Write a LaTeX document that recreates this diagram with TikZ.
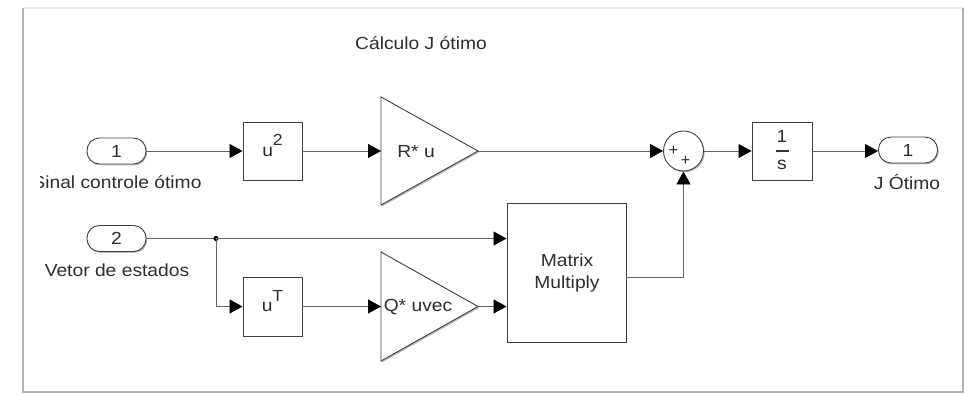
\documentclass[tikz,border=0pt]{standalone}
\usepackage{fontspec}
\setmainfont{Liberation Sans}
\usetikzlibrary{arrows.meta,shadows}
\newcommand{\wt}[1]{\scalebox{1.1}[1]{#1}}
\newcommand{\supx}[1]{\raisebox{0.6em}{\fontsize{16}{16}\selectfont #1}}
\begin{document}
\begin{tikzpicture}[x=1pt,y=-1pt,
  every node/.style={font=\fontsize{17.5}{20}\selectfont, text=black!82, inner sep=0pt},
  blk/.style={draw=black!75, line width=0.9pt, fill=white,
    drop shadow={shadow xshift=1.2pt,shadow yshift=-1.4pt,fill=black!45,opacity=0.6}},
  port/.style={blk, rounded corners=12.5pt, minimum width=59pt, minimum height=26pt},
  wire/.style={draw=black!60, line width=0.8pt},
  arr/.style={wire, -{Triangle[length=13pt,width=14pt,color=black]}},
  lbl/.style={text=black!82}
]
\useasboundingbox (0,0) rectangle (971,394);
% frame
\draw[draw=black!8, line width=1.2pt] (23,8) -- (963,8);
\draw[draw=black!30, line width=2pt] (23,8) -- (23,392) -- (963,392) -- (963,8);

% title
\node[lbl] (title) at (421,43) {\wt{Cálculo J ótimo}};

% ports
\node[port] (in1) at (116.5,151) {\wt{1}};
\node[port] (in2) at (116.5,238.5) {\wt{2}};
\node[port] (out1) at (908,150) {\wt{1}};
\begin{scope}
\clip (40,165) rectangle (300,200);
\node[lbl] (l1) at (117,182) {\wt{Sinal controle ótimo}};
\end{scope}
\node[lbl] (l2) at (117,270) {\wt{Vetor de estados}};
\node[lbl] (l3) at (907,182) {\wt{J Ótimo}};

% blocks
\node[blk, minimum width=59pt, minimum height=58pt] (sq) at (272.5,151) {};
\node (sqt) at (272.5,145.5) {\wt{u\supx{2}}};
\node[blk, minimum width=59pt, minimum height=59pt] (tr) at (272.5,306.5) {};
\node (trt) at (272.5,301) {\wt{u\supx{T}}};

% gains
\path[blk] (381,97) -- (381,205) -- (478,151) -- cycle;
\coordinate (rin) at (381,151);
\coordinate (rout) at (478,151);
\node (rt) at (416,152) {\wt{R* u}};
\path[blk] (381,252) -- (381,361) -- (478,306.5) -- cycle;
\coordinate (qin) at (381,306.5);
\coordinate (qout) at (478,306.5);
\node (qt) at (418,307) {\wt{Q* uvec}};

% matrix multiply
\node[blk, minimum width=119pt, minimum height=139pt] (mm) at (566.5,272.5) {};
\node (mm1) at (567,260) {\wt{Matrix}};
\node (mm2) at (567,284) {\wt{Multiply}};

% sum
\node[blk, circle, minimum size=40pt] (sum) at (683.5,151) {};
\node (p1) at (673.5,151) {\fontsize{16}{16}\selectfont +};
\node (p2) at (685.5,161) {\fontsize{16}{16}\selectfont +};

% integrator
\node[blk, minimum width=60pt, minimum height=58pt] (int) at (782,151) {};
\node (i1) at (782,136) {\wt{1}};
\node (i2) at (782,165) {\wt{s}};
\draw[line width=1.1pt, draw=black!80] (775.5,151) -- (788.5,151);

% connectors
\draw[arr] (in1.east) -- (sq.west);
\draw[arr] (sq.east) -- (rin);
\draw[arr] (rout) -- (sum.west);
\draw[arr] (sum.east) -- (int.west);
\draw[arr] (int.east) -- (int.east -| out1.west);
\coordinate (br) at (216,238.5);
\draw[wire] (in2.east) -- (br);
\fill[black] (br) circle (2.6pt);
\draw[arr] (br) -- (br -| mm.west);
\draw[arr] (br) |- (tr.west);
\draw[arr] (tr.east) -- (qin);
\draw[arr] (qout) -- (qout -| mm.west);
\coordinate (mmo) at (626,277.5);
\draw[arr] (mmo) -| (sum.south);
\end{tikzpicture}
\end{document}
